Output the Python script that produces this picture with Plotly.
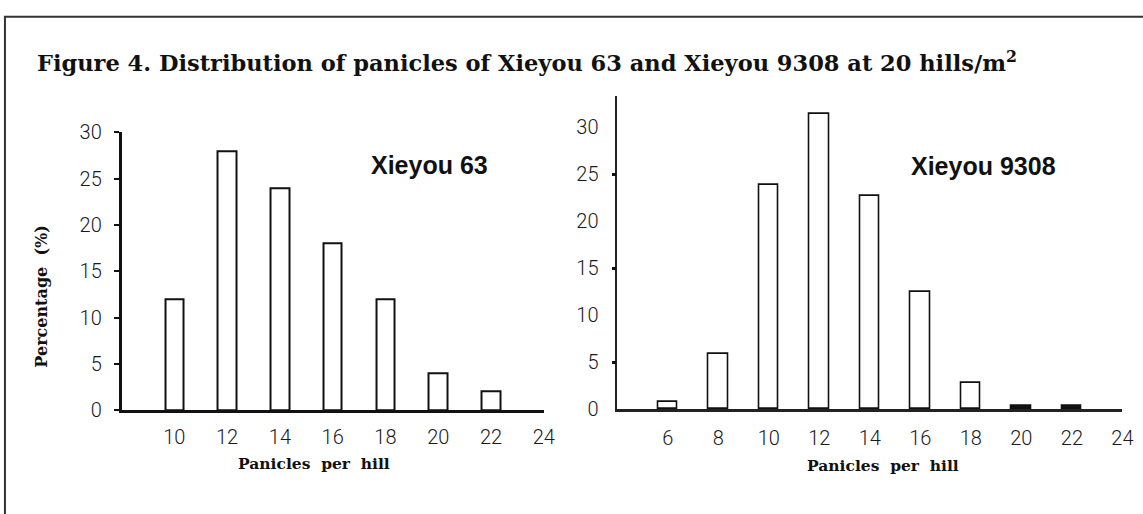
import plotly.graph_objects as go

# ---- data ----
left_panicles = [10, 12, 14, 16, 18, 20, 22]
left_pct = [12, 28, 24, 18, 12, 4, 2]
right_panicles = [6, 8, 10, 12, 14, 16, 18, 20, 22]
right_pct = [0.8, 5.9, 23.9, 31.4, 22.7, 12.5, 2.8, 0.4, 0.4]
left_xticks = [10, 12, 14, 16, 18, 20, 22, 24]
right_xticks = [6, 8, 10, 12, 14, 16, 18, 20, 22, 24]
left_yticks = [0, 5, 10, 15, 20, 25, 30]
right_yticks = [0, 5, 10, 15, 20, 25, 30]

W, H = 1143, 514
def px(x): return x / W
def py(y): return (H - y) / H

right_fill = ["white" if v >= 0.6 else "#111" for v in right_pct]

fig = go.Figure()
fig.add_trace(go.Bar(x=left_panicles, y=left_pct, width=0.7,
                     marker=dict(color="white", line=dict(color="#111", width=2)),
                     xaxis="x", yaxis="y", showlegend=False, hoverinfo="skip"))
fig.add_trace(go.Bar(x=right_panicles, y=right_pct, width=0.76,
                     marker=dict(color=right_fill, line=dict(color="#111", width=1.6)),
                     xaxis="x2", yaxis="y2", showlegend=False, hoverinfo="skip"))

tickfont = dict(family="Roboto", size=20, color="#1a1a1a", weight=300)
fig.update_layout(
    width=W, height=H, margin=dict(l=0, r=0, t=0, b=0),
    paper_bgcolor="white", plot_bgcolor="white",
    bargap=0,
    xaxis=dict(domain=[px(122.7), px(549.1)], range=[8, 24], anchor="y",
               tickvals=left_xticks, ticks="outside", ticklen=7, tickcolor="rgba(0,0,0,0)",
               showline=True, linecolor="#111", linewidth=2.5, showgrid=False,
               zeroline=False, tickfont=tickfont),
    yaxis=dict(domain=[py(417.7), py(126.1)], range=[0, 30], anchor="x",
               tickvals=left_yticks, ticks="outside", ticklen=5, tickwidth=2, tickcolor="#111",
               ticklabelstandoff=8,
               showline=True, linecolor="#111", linewidth=2.5, showgrid=False,
               zeroline=False, tickfont=tickfont),
    xaxis2=dict(domain=[px(623.3), px(1133.3)], range=[4, 24], anchor="y2",
                tickvals=right_xticks, ticks="outside", ticklen=9, tickcolor="rgba(0,0,0,0)",
                showline=True, linecolor="#222", linewidth=2.5, showgrid=False,
                zeroline=False, tickfont=tickfont),
    yaxis2=dict(domain=[py(416.7), py(88)], range=[0, 33.34], anchor="x2",
                tickvals=right_yticks, ticks="",
                minor=dict(tick0=5, dtick=10, ticks="outside", ticklen=4, tickwidth=2.5, tickcolor="#111"),
                ticklabelstandoff=13,
                showline=True, linecolor="#222", linewidth=1.6, showgrid=False,
                zeroline=False, tickfont=tickfont),
)

serif_b = dict(family="DejaVu Serif", color="#111")
anns = [
    dict(text="<b>Figure 4. Distribution of panicles of Xieyou 63 and Xieyou 9308 at 20 hills/m<sup>2</sup></b>",
         x=px(35), y=py(52), xanchor="left", yanchor="middle",
         font=dict(size=22.5, **serif_b)),
    dict(text="<b>Percentage  (%)</b>", x=px(41), y=py(299), textangle=-90,
         xanchor="center", yanchor="middle", font=dict(size=16, **serif_b)),
    dict(text="<b>Panicles  per  hill</b>", x=px(317), y=py(474),
         xanchor="center", yanchor="middle", font=dict(size=15.5, **serif_b)),
    dict(text="<b>Panicles  per  hill</b>", x=px(892), y=py(476),
         xanchor="center", yanchor="middle", font=dict(size=15.5, **serif_b)),
    dict(text="<b>Xieyou 63</b>", x=px(434), y=py(161), xanchor="center", yanchor="middle",
         font=dict(family="Liberation Sans", size=25, color="#111")),
    dict(text="<b>Xieyou 9308</b>", x=px(993), y=py(162), xanchor="center", yanchor="middle",
         font=dict(family="Liberation Sans", size=25, color="#111")),
]
for a in anns:
    a.update(xref="paper", yref="paper", showarrow=False)
fig.update_layout(annotations=anns)

fig.add_shape(type="rect", xref="paper", yref="paper",
              x0=px(5), x1=px(1160), y0=py(530), y1=py(5),
              line=dict(color="#333", width=2), fillcolor="rgba(0,0,0,0)")

fig.write_html("out.html", config={"displayModeBar": False},
               post_script="document.body.style.margin='0';document.body.style.overflow='hidden';")
